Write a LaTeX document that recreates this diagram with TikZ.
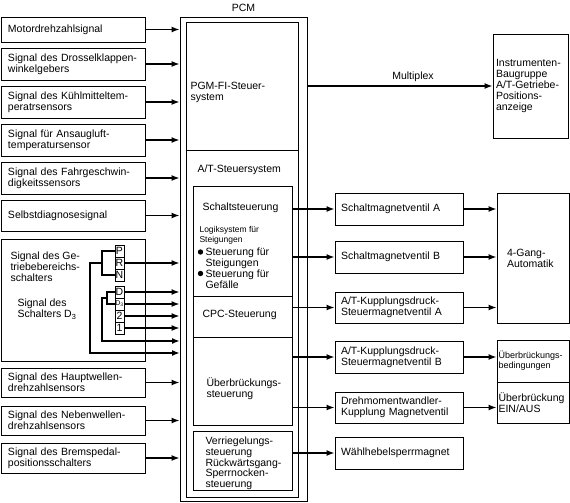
\documentclass[tikz,border=0pt]{standalone}
\usepackage{fontspec}
\setmainfont{Liberation Sans}
\usetikzlibrary{positioning,arrows.meta}
\tikzstyle{txt}=[font=\fontsize{10.5}{11}\selectfont,align=left]
\tikzstyle{pbox}=[draw=black,line width=0.8pt,inner sep=0pt]
\tikzstyle{lbox}=[txt,pbox,minimum width=144pt,minimum height=32pt,
  text width=130pt,inner xsep=7pt]
\tikzstyle{mbox}=[txt,pbox,minimum width=128pt,minimum height=32pt,
  text width=116pt,inner xsep=6pt]
\tikzstyle{selbox}=[txt,pbox,minimum width=9pt,minimum height=12pt,outer sep=0pt]
\tikzstyle{bul}=[circle,fill=black,inner sep=1.9pt]
\tikzstyle{sig}=[line width=1.6pt,-{Latex[length=8pt,width=6pt]}]
\tikzstyle{bus}=[line width=1.6pt]

\begin{document}
\begin{tikzpicture}[x=1pt,y=-1pt]
    \useasboundingbox (0,0) rectangle (570,503);
    \node [style=lbox, minimum height=25pt] (motor) at (73,29.5) {Motordrehzahlsignal};
    \node [style=lbox] (dross) at (73,64) {Signal des Drosselklappen-\\winkelgebers};
    \node [style=lbox] (kuehl) at (73,102) {Signal des Kühlmitteltem-\\peratrsensors};
    \node [style=lbox] (ansaug) at (73,140) {Signal für Ansaugluft-\\temperatursensor};
    \node [style=lbox] (fahr) at (73,178) {Signal des Fahrgeschwin-\\digkeitssensors};
    \node [style=lbox, minimum height=31pt] (diag) at (73,215.5) {Selbstdiagnosesignal};
    \node [style=lbox, minimum height=122pt] (getr) at (73,300) {};
    \node [style=lbox, minimum height=29pt] (haupt) at (73,382.5) {Signal des Hauptwellen-\\drehzahlsensors};
    \node [style=lbox, minimum height=29pt] (neben) at (73,420.5) {Signal des Nebenwellen-\\drehzahlsensors};
    \node [style=lbox, minimum height=30pt] (brems) at (73,458) {Signal des Bremspedal-\\positionsschalters};
    \node [style=txt, anchor=west] (getrtxt) at (7,267) {Signal des Ge-\\triebebereichs-\\schalters};
    \node [style=txt, anchor=west] (dtxt) at (14,309) {Signal des\\Schalters D\textsubscript{3}};
    \node [style=selbox] (p) at (119.5,251) {P};
    \node [style=selbox, below=0pt of p] (r) {R};
    \node [style=selbox, below=0pt of r] (n) {N};
    \node [style=selbox] (d) at (119.5,292) {D};
    \node [style=selbox, below=0pt of d, font=\fontsize{7}{8}\selectfont] (dd) {D\textsubscript{3}};
    \node [style=selbox, below=0pt of dd] (zwei) {2};
    \node [style=selbox, below=0pt of zwei] (eins) {1};
    \coordinate (prnin) at (180,353);
    \coordinate (ddin) at (180,341);

    \node [style=pbox, minimum width=127pt, minimum height=484pt] (pcm) at (243.5,259) {};
    \node [style=txt] (pcmlbl) at (243.5,8) {PCM};
    \node [style=pbox, minimum width=112pt, minimum height=475pt] (pcmin) at (242,259.5) {};
    \node [style=pbox, minimum width=112pt, minimum height=128pt] (pgm) at (242,86) {};
    \node [style=txt, anchor=west] (pgmtxt) at (187,92) {PGM-FI-Steuer-\\system};
    \node [style=txt, anchor=west] (attxt) at (194,170) {A/T-Steuersystem};
    \node [style=pbox, minimum width=99pt, minimum height=110pt] (schalt) at (242.5,241) {};
    \node [style=pbox, minimum width=99pt, minimum height=41pt] (cpc) at (242.5,316.5) {};
    \node [style=pbox, minimum width=99pt, minimum height=88pt] (uest) at (242.5,381) {};
    \node [style=pbox, minimum width=99pt, minimum height=59pt] (verr) at (242.5,460.5) {};
    \node [style=txt, anchor=west] (schalttxt) at (199,208) {Schaltsteuerung};
    \node [style=txt, font=\fontsize{8.5}{10}\selectfont, anchor=west] (logik) at (196,235) {Logiksystem für\\Steigungen};
    \node [style=bul] (bul1) at (200.5,252) {};
    \node [style=bul] (bul2) at (200.5,273.5) {};
    \node [style=txt, anchor=west] (steig) at (202,258) {Steuerung für\\Steigungen};
    \node [style=txt, anchor=west] (gefa) at (202,279) {Steuerung für\\Gefälle};
    \node [style=txt, anchor=west] (cpctxt) at (199,315) {CPC-Steuerung};
    \node [style=txt, anchor=west] (uesttxt) at (203,389) {Überbrückungs-\\steuerung};
    \node [style=txt, font=\fontsize{10.5}{10.75}\selectfont, anchor=west] (verrtxt) at (202,463.5) {Verriegelungs-\\steuerung\\Rückwärtsgang-\\Sperrnocken-\\steuerung};

    \node [style=mbox] (sva) at (399,209) {Schaltmagnetventil A};
    \node [style=mbox] (svb) at (399,257) {Schaltmagnetventil B};
    \node [style=mbox, minimum height=31pt] (kupa) at (399,307.5) {A/T-Kupplungsdruck-\\Steuermagnetventil A};
    \node [style=mbox] (kupb) at (399,357) {A/T-Kupplungsdruck-\\Steuermagnetventil B};
    \node [style=mbox, minimum height=31pt] (dreh) at (399,407.5) {Drehmomentwandler-\\Kupplung Magnetventil};
    \node [style=mbox] (waehl) at (399,453) {Wählhebelsperrmagnet};

    \node [style=txt, pbox, minimum width=75pt, minimum height=104pt, text width=69pt, inner xsep=3pt] (inst) at (530.5,86) {Instrumenten-\\Baugruppe\\A/T-Getriebe-\\Positions-\\anzeige};
    \node [style=txt, pbox, minimum width=72pt, minimum height=130pt, text width=52pt, inner xsep=10pt] (gang) at (533,258) {4-Gang-\\Automatik};
    \node [style=txt, pbox, font=\fontsize{9}{10}\selectfont, minimum width=72pt, minimum height=42pt, text width=69pt, inner xsep=1.5pt] (uebA) at (533,361) {Überbrückungs-\\bedingungen};
    \node [style=txt, pbox, minimum width=72pt, minimum height=41pt, text width=69pt, inner xsep=1.5pt] (uebB) at (533,402.5) {Überbrückung\\EIN/AUS};

    \draw [style=sig] (motor) to (motor -| pcm.west);
    \draw [style=sig] (dross) to (dross -| pcm.west);
    \draw [style=sig] (kuehl) to (kuehl -| pcm.west);
    \draw [style=sig] (ansaug) to (ansaug -| pcm.west);
    \draw [style=sig] (fahr) to (fahr -| pcm.west);
    \draw [style=sig] (diag) to (diag -| pcm.west);
    \draw [style=sig] (haupt) to (haupt -| pcm.west);
    \draw [style=sig] (neben) to (neben -| pcm.west);
    \draw [style=sig] (brems) to (brems -| pcm.west);
    \draw [style=sig] (r) to (r -| pcm.west);
    \draw [style=sig] (d) to (d -| pcm.west);
    \draw [style=sig] (dd) to (dd -| pcm.west);
    \draw [style=sig] (zwei) to (zwei -| pcm.west);
    \draw [style=sig] (eins) to (eins -| pcm.west);
    \draw [style=bus] (p.west) -- ++(-13,0) |- (n.west);
    \draw [style=bus] (d.west) -- ++(-8,0) |- (dd.west);
    \draw [style=sig] ([xshift=-13pt]r.west) -- ++(-12,0) |- (prnin);
    \draw [style=sig] ([xshift=-8pt]d.south west) -- ++(-5,0) |- (ddin);

    \draw [style=sig] (pcm.east |- inst) to node [style=txt, above, pos=0.57] (mplx) {Multiplex} (inst);
    \draw [style=sig] (schalt.east |- sva) to (sva);
    \draw [style=sig] (schalt.east |- svb) to (svb);
    \draw [style=sig] (cpc.east |- kupa) to (kupa);
    \draw [style=sig] (uest.east |- kupb) to (kupb);
    \draw [style=sig] (uest.east |- dreh) to (dreh);
    \draw [style=sig] (verr.east |- waehl) to (waehl);
    \draw [style=sig] (sva) to (sva -| gang.west);
    \draw [style=sig] (svb) to (svb -| gang.west);
    \draw [style=sig] (kupa) to (kupa -| gang.west);
    \draw [style=sig] (kupb) to (kupb -| uebA.west);
    \draw [style=sig] (dreh) to (dreh -| uebB.west);
  \end{tikzpicture}
\end{document}
